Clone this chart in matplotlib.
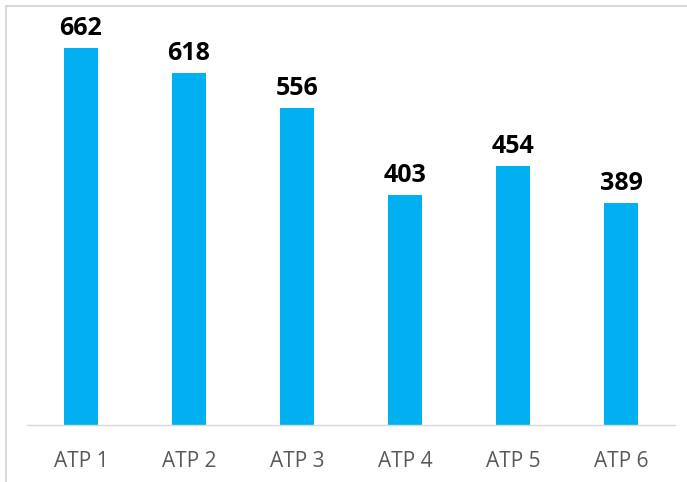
import matplotlib.pyplot as plt
from matplotlib.patches import Rectangle

categories = ['ATP 1', 'ATP 2', 'ATP 3', 'ATP 4', 'ATP 5', 'ATP 6']
values = [662, 618, 556, 403, 454, 389]

W, H = 687, 482
fig = plt.figure(figsize=(W / 100, H / 100), dpi=100)

# chart border (cut off at right and bottom like the reference)
fig.patches.append(Rectangle((6 / W, -0.1), 1.2, 1 - 6 / H + 0.1, transform=fig.transFigure,
                             fill=False, edgecolor='#d9d9d9', lw=1.5))

ax = fig.add_axes([27 / W, (H - 425) / H, 648 / W, (425 - 26) / H])
x = range(len(categories))
bars = ax.bar(x, values, width=0.315, color='#00b0f0')
ax.set_xlim(-0.5, len(categories) - 0.5)
ax.set_ylim(0, 700)

for xi, v in zip(x, values):
    ax.text(xi, v + 12, str(v), ha='center', va='bottom', fontsize=18,
            fontweight='bold', family='Open Sans', color='black')

ax.set_xticks(list(x))
ax.set_xticklabels(categories, fontsize=15, family='Open Sans', color='#595959')
ax.tick_params(axis='x', length=0, pad=19)
ax.set_yticks([])
for s in ['top', 'right', 'left']:
    ax.spines[s].set_visible(False)
ax.spines['bottom'].set_color('#d9d9d9')
ax.spines['bottom'].set_linewidth(1)

fig.savefig('out.png', dpi=100)
